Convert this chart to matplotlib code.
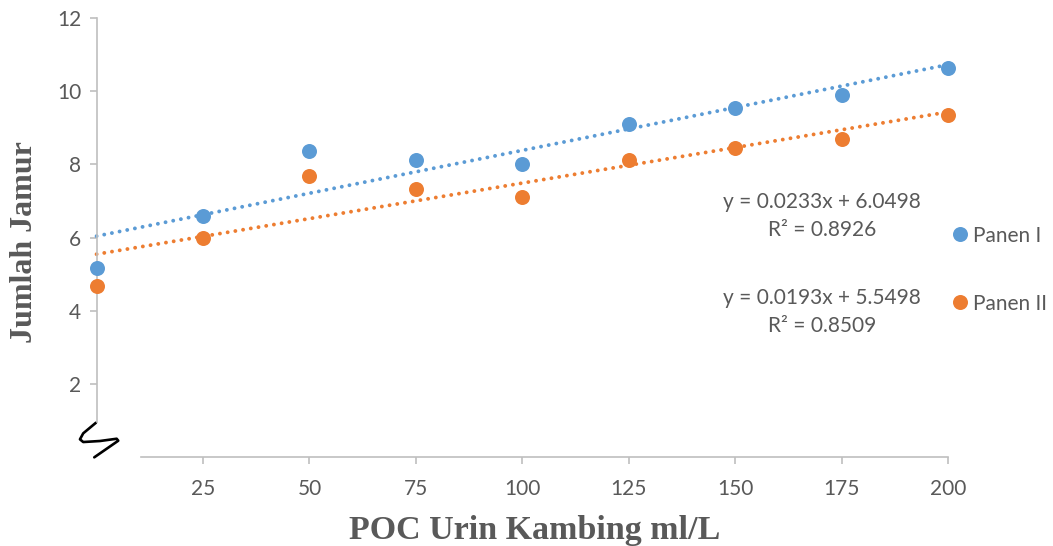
import matplotlib.pyplot as plt
import numpy as np

# data
dosis = [0, 25, 50, 75, 100, 125, 150, 175, 200]
panen_1 = [5.17, 6.59, 8.37, 8.12, 8.01, 9.11, 9.54, 9.90, 10.64]
panen_2 = [4.68, 5.99, 7.68, 7.33, 7.11, 8.12, 8.45, 8.70, 9.35]
x_ticks = [25, 50, 75, 100, 125, 150, 175, 200]
y_ticks = [2, 4, 6, 8, 10, 12]
eq_1 = ['y = 0.0233x + 6.0498', 'R² = 0.8926']
eq_2 = ['y = 0.0193x + 5.5498', 'R² = 0.8509']

BLUE = '#5B9BD5'
ORANGE = '#ED7D31'
GREY = '#595959'


def main():
    plt.rcParams['font.family'] = ['Lato', 'DejaVu Sans']

    fig = plt.figure(figsize=[10.53, 5.46], dpi=100)
    ax = fig.add_axes([0.0917, 0.1626, 0.8086, 0.8044])
    ax.set_xlim(0, 200)
    ax.set_ylim(0, 12)

    xs = np.array(dosis, dtype=float)
    for ys, c, lab in [(panen_1, BLUE, 'Panen I'), (panen_2, ORANGE, 'Panen II')]:
        k, b = np.polyfit(xs, ys, 1)
        xl = np.array([0, 200])
        ax.plot(xl, k * xl + b, color=c, lw=2.8, linestyle=(0, (0.01, 2)),
                dash_capstyle='round', clip_on=False, zorder=2)
        ax.plot(xs, ys, 'o', color=c, ms=10.8, mec='none', label=lab,
                clip_on=False, zorder=3)

    for s in ['top', 'right']:
        ax.spines[s].set_visible(False)
    ax.spines['left'].set_bounds(0.96, 12)
    ax.spines['bottom'].set_bounds(10.4, 200)
    for s in ['left', 'bottom']:
        ax.spines[s].set_color('#bfbfbf')
        ax.spines[s].set_linewidth(1.2)

    ax.set_xticks(x_ticks)
    ax.set_yticks(y_ticks)
    ax.tick_params(colors='#bfbfbf', labelcolor=GREY, labelsize=15,
                   length=5, width=1.2)
    ax.tick_params(axis='x', pad=11)
    ax.tick_params(axis='y', pad=6)

    # axis break squiggle
    ax.plot([-0.14, -3.13, -3.90, -3.13, 0.80, 4.72, 5.10, -0.54],
            [0.943, 0.653, 0.489, 0.415, 0.443, 0.505, 0.451, -0.003],
            color='black', lw=1.9, solid_joinstyle='round',
            solid_capstyle='round', clip_on=False)

    ax.set_xlabel('POC Urin Kambing ml/L', family='Liberation Serif',
                  fontweight='bold', fontsize=24.5, color=GREY)
    ax.xaxis.set_label_coords(0.514, -0.131)
    ax.set_ylabel('Jumlah Jamur', family='Liberation Serif',
                  fontweight='bold', fontsize=23, color=GREY)
    ax.yaxis.set_label_coords(-0.0675, 0.49)

    for i, eq in enumerate([eq_1, eq_2]):
        for j, line in enumerate(eq):
            fig.text(822 / 1053, 1 - (202 + 96 * i + 28 * j) / 546, line,
                     ha='center', va='center', fontsize=15, color=GREY)

    ax.legend(loc='center left', bbox_to_anchor=(0.99, 0.427), frameon=False,
              fontsize=15, labelcolor=GREY, handletextpad=0.0,
              labelspacing=2.3, borderaxespad=0, handlelength=1.2)

    fig.savefig('out.png', dpi=100)
    return 0


if __name__ == '__main__':
    main()
